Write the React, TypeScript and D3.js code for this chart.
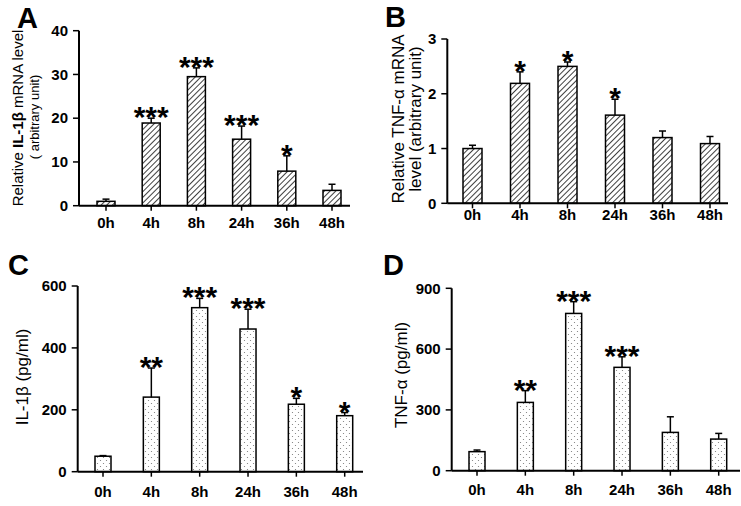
import React from "react";
import * as d3 from "d3";

const categories = ["0h", "4h", "8h", "24h", "36h", "48h"];

const il1bMrna = [1.0, 18.9, 29.5, 15.2, 7.9, 3.5];
const il1bMrnaErr = [0.5, 1.1, 2.0, 3.0, 3.5, 1.4];
const il1bMrnaSig = ["", "***", "***", "***", "*", ""];
const il1bMrnaTicks = [0, 10, 20, 30, 40];

const tnfMrna = [1.0, 2.19, 2.5, 1.61, 1.2, 1.09];
const tnfMrnaErr = [0.06, 0.21, 0.08, 0.29, 0.12, 0.13];
const tnfMrnaSig = ["", "*", "*", "*", "", ""];
const tnfMrnaTicks = [0, 1, 2, 3];

const il1bProt = [50, 241, 530, 461, 218, 181];
const il1bProtErr = [2, 94, 30, 64, 19, 10];
const il1bProtSig = ["", "**", "***", "***", "*", "*"];
const il1bProtTicks = [0, 200, 400, 600];

const tnfProt = [94, 337, 776, 510, 189, 156];
const tnfProtErr = [8, 58, 58, 52, 77, 28];
const tnfProtSig = ["", "**", "***", "***", "", ""];
const tnfProtTicks = [0, 300, 600, 900];

const FONT = "Arial, 'Liberation Sans', Helvetica, sans-serif";

type PanelProps = {
  letter: string;
  letterPos: [number, number];
  values: number[];
  errors: number[];
  sig: string[];
  ticks: number[];
  axisX: number;
  yTop: number;
  yBottom: number;
  xEnd: number;
  firstCenter: number;
  lastCenter: number;
  barWidth: number;
  labelBaseline: number;
  fill: string;
  title: React.ReactNode;
};

function Panel(p: PanelProps) {
  const maxTick = p.ticks[p.ticks.length - 1];
  const y = d3.scaleLinear().domain([0, maxTick]).range([p.yBottom, p.yTop]);
  const x = d3.scalePoint<string>().domain(categories).range([p.firstCenter, p.lastCenter]);
  return (
    <g>
      <text x={p.letterPos[0]} y={p.letterPos[1]} fontFamily={FONT} fontWeight="bold" fontSize={29}>
        {p.letter}
      </text>
      {categories.map((c, i) => {
        const cx = x(c)!;
        const top = y(p.values[i]);
        const et = y(p.values[i] + p.errors[i]);
        return (
          <g key={c}>
            <line x1={cx} x2={cx} y1={top} y2={et} stroke="#000" strokeWidth={1.5} />
            <line x1={cx - 3.5} x2={cx + 3.5} y1={et} y2={et} stroke="#000" strokeWidth={1.5} />
            <rect
              x={cx - p.barWidth / 2}
              y={top}
              width={p.barWidth}
              height={p.yBottom - top}
              fill={p.fill}
              stroke="#000"
              strokeWidth={1.5}
            />
            {p.sig[i] && (
              <text
                x={cx}
                y={et + 9}
                textAnchor="middle"
                fontFamily={FONT}
                fontWeight="bold"
                fontSize={30}
              >
                {p.sig[i]}
              </text>
            )}
            <line x1={cx} x2={cx} y1={p.yBottom} y2={p.yBottom + 5} stroke="#000" strokeWidth={1.5} />
            <text
              x={cx}
              y={p.labelBaseline}
              textAnchor="middle"
              fontFamily={FONT}
              fontWeight="bold"
              fontSize={15}
            >
              {c}
            </text>
          </g>
        );
      })}
      <line x1={p.axisX} x2={p.axisX} y1={p.yTop} y2={p.yBottom} stroke="#000" strokeWidth={2} />
      <line x1={p.axisX} x2={p.xEnd} y1={p.yBottom} y2={p.yBottom} stroke="#000" strokeWidth={2} />
      {p.ticks.map((t) => (
        <g key={t}>
          <line x1={p.axisX - 6} x2={p.axisX} y1={y(t)} y2={y(t)} stroke="#000" strokeWidth={1.5} />
          <text
            x={p.axisX - 11}
            y={y(t)}
            dy="0.35em"
            textAnchor="end"
            fontFamily={FONT}
            fontWeight="bold"
            fontSize={15}
          >
            {t}
          </text>
        </g>
      ))}
      {p.title}
    </g>
  );
}

export default function App() {
  return (
    <svg
      width={741}
      height={506}
      style={{ position: "absolute", left: 0, top: 0, background: "#fff" }}
    >
      <defs>
        <pattern
          id="hatch"
          patternUnits="userSpaceOnUse"
          width={4}
          height={4}
          patternTransform="rotate(45)"
        >
          <rect width={4} height={4} fill="#fff" />
          <line x1={0} y1={0} x2={0} y2={4} stroke="#000" strokeWidth={1.5} />
        </pattern>
        <pattern id="dots" patternUnits="userSpaceOnUse" width={6} height={6}>
          <rect width={6} height={6} fill="#fff" />
          <circle cx={1.5} cy={1.5} r={0.6} fill="#777" />
          <circle cx={4.5} cy={4.5} r={0.6} fill="#777" />
        </pattern>
      </defs>
      <rect width={741} height={506} fill="#fff" />

      <Panel
        letter="A"
        letterPos={[17, 28]}
        values={il1bMrna}
        errors={il1bMrnaErr}
        sig={il1bMrnaSig}
        ticks={il1bMrnaTicks}
        axisX={79}
        yTop={30.7}
        yBottom={205.7}
        xEnd={350}
        firstCenter={106}
        lastCenter={332}
        barWidth={18}
        labelBaseline={228}
        fill="url(#hatch)"
        title={
          <g fontFamily={FONT}>
            <text transform="translate(18,118) rotate(-90)" textAnchor="middle" dy="0.35em" fontSize={15}>
              Relative <tspan fontWeight="bold">IL-1β</tspan> mRNA level
            </text>
            <text transform="translate(34,117) rotate(-90)" textAnchor="middle" dy="0.35em" fontSize={13}>
              ( arbitrary unit)
            </text>
          </g>
        }
      />

      <Panel
        letter="B"
        letterPos={[385, 27]}
        values={tnfMrna}
        errors={tnfMrnaErr}
        sig={tnfMrnaSig}
        ticks={tnfMrnaTicks}
        axisX={447.3}
        yTop={39}
        yBottom={203.3}
        xEnd={728}
        firstCenter={472.5}
        lastCenter={710}
        barWidth={19}
        labelBaseline={220}
        fill="url(#hatch)"
        title={
          <g fontFamily={FONT} fontSize={17}>
            <text transform="translate(398,119) rotate(-90)" textAnchor="middle" dy="0.35em">
              Relative TNF-α mRNA
            </text>
            <text transform="translate(415,119) rotate(-90)" textAnchor="middle" dy="0.35em">
              level (arbitrary unit)
            </text>
          </g>
        }
      />

      <Panel
        letter="C"
        letterPos={[8, 275]}
        values={il1bProt}
        errors={il1bProtErr}
        sig={il1bProtSig}
        ticks={il1bProtTicks}
        axisX={77.7}
        yTop={286}
        yBottom={471.7}
        xEnd={363}
        firstCenter={103}
        lastCenter={344.7}
        barWidth={16}
        labelBaseline={497}
        fill="url(#dots)"
        title={
          <text
            transform="translate(22,377) rotate(-90)"
            textAnchor="middle"
            dy="0.35em"
            fontFamily={FONT}
            fontSize={17}
          >
            IL-1β (pg/ml)
          </text>
        }
      />

      <Panel
        letter="D"
        letterPos={[383, 275]}
        values={tnfProt}
        errors={tnfProtErr}
        sig={tnfProtSig}
        ticks={tnfProtTicks}
        axisX={451.7}
        yTop={288.3}
        yBottom={470.7}
        xEnd={740}
        firstCenter={477}
        lastCenter={718.7}
        barWidth={16}
        labelBaseline={495}
        fill="url(#dots)"
        title={
          <text
            transform="translate(401,375) rotate(-90)"
            textAnchor="middle"
            dy="0.35em"
            fontFamily={FONT}
            fontSize={17}
          >
            TNF-α (pg/ml)
          </text>
        }
      />
    </svg>
  );
}
